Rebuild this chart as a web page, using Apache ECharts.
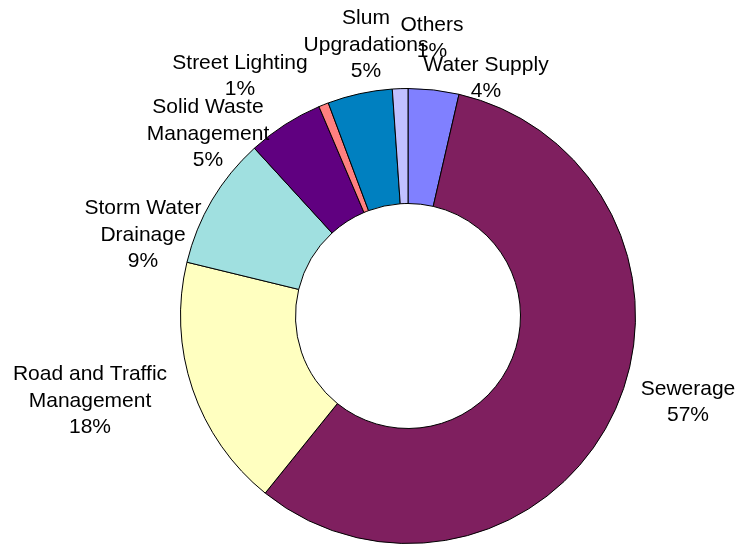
<!DOCTYPE html>
<html>
<head>
<meta charset="utf-8">
<title>Sector-wise allocation</title>
<script src="https://cdn.jsdelivr.net/npm/echarts@6/dist/echarts.min.js"></script>
<style>
  html, body { margin: 0; padding: 0; background: #fff; }
  #chart { width: 743px; height: 544px; }
</style>
</head>
<body>
<div id="chart"></div>
<script>
// Sectors, in clockwise order starting at 12 o'clock
const sectors = [
  'Water Supply',
  'Sewerage',
  'Road and Traffic\nManagement',
  'Storm Water\nDrainage',
  'Solid Waste\nManagement',
  'Street Lighting',
  'Slum\nUpgradations',
  'Others'
];
// Share of the total for each sector (%)
const shares = [3.6, 57.2, 18.0, 9.4, 5.4, 0.7, 4.6, 1.1];

const sectorColors = [
  '#8080FF', '#7F1F5F', '#FFFFC0', '#A0E0E0',
  '#600080', '#FF8080', '#0080C0', '#C0C0FF'
];

// Where each sector's label block is centred
const labelSpots = [
  [486, 78], [688, 402], [90, 401], [143, 235],
  [208, 134], [240, 76], [366, 45], [432, 38]
];

const chart = echarts.init(document.getElementById('chart'), null, { renderer: 'canvas' });

chart.setOption({
  animation: false,
  backgroundColor: '#ffffff',
  series: [{
    type: 'pie',
    center: [408, 316],
    radius: [112.5, 227.5],
    startAngle: 90,
    clockwise: true,
    avoidLabelOverlap: false,
    percentPrecision: 0,
    itemStyle: { borderColor: '#000', borderWidth: 1 },
    label: {
      show: true,
      position: 'outside',
      formatter: '{b}\n{d}%',
      color: '#000',
      fontFamily: '"Liberation Sans", Arial, sans-serif',
      fontSize: 21,
      lineHeight: 26.5,
      align: 'center'
    },
    labelLine: { show: false },
    labelLayout: function (p) {
      const s = labelSpots[p.dataIndex];
      return { x: s[0], y: s[1], align: 'center', verticalAlign: 'middle' };
    },
    emphasis: { disabled: true },
    data: sectors.map((name, i) => ({
      name: name,
      value: shares[i],
      itemStyle: { color: sectorColors[i] }
    }))
  }]
});
</script>
</body>
</html>
